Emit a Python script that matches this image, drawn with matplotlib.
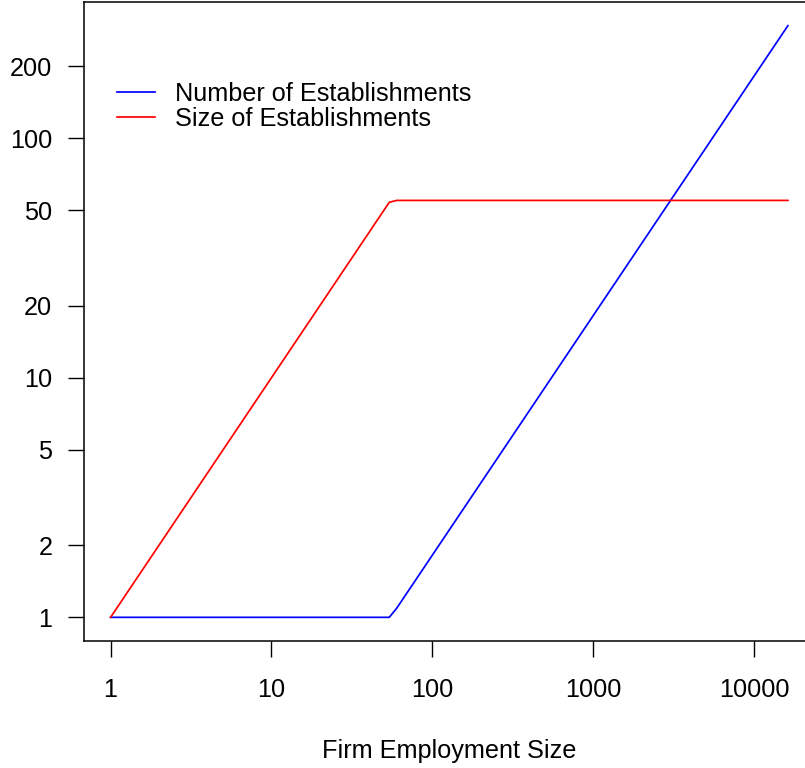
import numpy as np
import matplotlib
matplotlib.use("Agg")
import matplotlib.pyplot as plt

plt.rcParams['font.family'] = ['Liberation Sans', 'DejaVu Sans']

# Firm employment size and the resulting establishment count / size
firm_size = [1, 54, 60, 16250]
num_establishments = [1, 1, 1.09, 295]
size_establishments = [1, 54, 55, 55]

x_ticks = [1, 10, 100, 1000, 10000]
x_tick_labels = ["1", "10", "100", "1000", "10000"]
y_ticks = [1, 2, 5, 10, 20, 50, 100, 200]
y_tick_labels = ["1", "2", "5", "10", "20", "50", "100", "200"]

FS = 18.2

W, H = 805, 768
fig = plt.figure(figsize=(W / 100, H / 100), dpi=100)
left, right, top, bottom = 83.5, 815, 2, 641
ax = fig.add_axes([left / W, 1 - bottom / H, (right - left) / W, (bottom - top) / H])

ax.plot(firm_size, num_establishments, color="blue", lw=1.25, label="Number of Establishments")
ax.plot(firm_size, size_establishments, color="red", lw=1.25, label="Size of Establishments")

ax.set_xscale("log")
ax.set_yscale("log")

# R-style 4% padding on the log ranges
lx0, lx1 = np.log10(min(firm_size)), np.log10(max(firm_size))
px = 0.04 * (lx1 - lx0)
ax.set_xlim(10 ** (lx0 - px), 10 ** (lx1 + px))
ally = num_establishments + size_establishments
ly0, ly1 = np.log10(min(ally)), np.log10(max(ally))
py = 0.04 * (ly1 - ly0)
ax.set_ylim(10 ** (ly0 - py), 10 ** (ly1 + py))

ax.set_xticks(x_ticks)
ax.set_xticklabels(x_tick_labels)
ax.set_yticks(y_ticks)
ax.set_yticklabels(y_tick_labels)
ax.minorticks_off()

ax.tick_params(axis="both", direction="out", length=11.5, width=1.0, labelsize=FS, color="black")
ax.tick_params(axis="x", pad=15)
ax.tick_params(axis="y", pad=11)

for s in ax.spines.values():
    s.set_linewidth(1.1)

ax.set_xlabel("Firm Employment Size", fontsize=FS, labelpad=27)

leg = ax.legend(loc="upper left", bbox_to_anchor=((117 - left) / (right - left), (bottom - 82) / (bottom - top)),
                frameon=False, fontsize=FS, handlelength=1.5, handletextpad=0.8,
                labelspacing=0.05, borderaxespad=0, borderpad=0)

fig.savefig("out.png", dpi=100)
